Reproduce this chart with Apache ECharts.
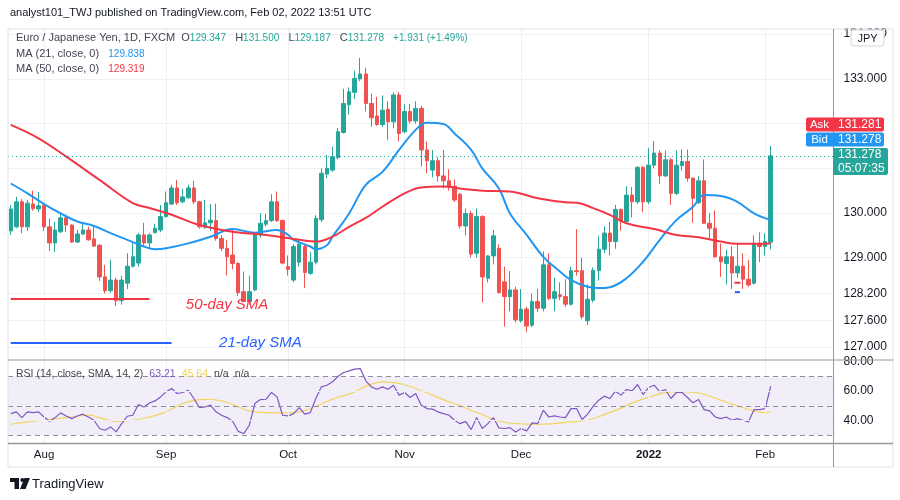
<!DOCTYPE html>
<html>
<head>
<meta charset="utf-8">
<script src="https://cdn.jsdelivr.net/npm/echarts@6/dist/echarts.min.js"></script>
<style>
  html, body { margin: 0; padding: 0; background: #fff; }
  #chart { width: 900px; height: 500px; }
</style>
</head>
<body>
<div id="chart"></div>
<script>
// EUR/JPY daily bars (FXCM), 23 Jul 2021 - 2 Feb 2022
const opens = [
  129.60, 129.69, 130.25, 129.69, 130.20, 130.09, 130.18, 129.69, 129.33, 129.58,
  129.89, 129.73, 129.35, 129.53, 129.62, 129.42, 129.28, 128.57, 128.26, 128.50,
  128.04, 128.43, 128.81, 128.88, 129.51, 129.33, 129.56, 129.62, 129.92, 130.20,
  130.56, 130.25, 130.34, 130.56, 130.25, 129.68, 129.78, 129.83, 129.43, 129.21,
  129.06, 128.87, 128.24, 128.02, 128.28, 129.51, 129.75, 129.83, 130.25, 129.83,
  128.80, 128.50, 128.90, 129.25, 128.65, 128.90, 129.85, 130.87, 130.96, 131.24,
  131.80, 132.42, 132.70, 133.00, 133.11, 132.45, 132.17, 131.98, 132.32, 132.04,
  132.64, 131.82, 132.27, 132.06, 132.34, 131.41, 130.96, 131.17, 130.83, 130.72,
  130.60, 130.42, 129.71, 129.99, 129.10, 129.92, 128.54, 129.04, 129.21,
  128.46, 128.13, 128.28, 127.59, 127.85, 127.49, 128.02, 127.87, 128.84, 128.09,
  128.17, 128.13, 127.96, 128.71, 128.71, 127.59, 128.05, 128.71, 129.19, 129.55,
  129.36, 130.08, 129.81, 130.40, 130.25, 131.02, 130.25, 131.07, 131.34, 130.83,
  131.19, 130.44, 131.06, 131.15, 130.78, 130.23, 130.72, 129.77, 129.66, 129.02,
  128.87, 129.02, 128.66, 128.81, 128.52, 128.43, 129.32, 129.25, 129.347
]
const highs = [
  130.18, 130.36, 130.31, 130.29, 130.50, 130.47, 130.22, 129.87, 129.80, 130.02,
  129.91, 129.75, 129.62, 129.80, 129.69, 129.69, 129.30, 128.84, 128.95, 128.55,
  128.60, 129.10, 129.36, 129.55, 129.78, 129.55, 129.76, 130.18, 130.48, 130.63,
  130.74, 130.54, 130.63, 130.72, 130.27, 130.29, 130.20, 130.21, 129.50, 129.40,
  129.66, 128.90, 128.69, 128.60, 129.55, 130.00, 129.98, 130.42, 130.48, 129.85,
  129.05, 129.30, 129.40, 129.30, 129.13, 129.95, 131.00, 131.30, 131.48, 131.90,
  132.78, 132.81, 133.18, 133.47, 133.25, 132.67, 132.60, 132.63, 132.50, 132.70,
  132.70, 132.44, 132.44, 132.50, 132.40, 131.60, 131.41, 131.25, 131.41, 130.98,
  130.75, 130.45, 130.10, 130.05, 130.10, 129.95, 129.06, 129.62, 129.30,
  128.80, 128.70, 128.35, 128.30, 127.90, 128.20, 128.30, 129.14, 129.10, 128.55,
  128.45, 128.52, 128.80, 129.64, 129.00, 128.40, 128.78, 129.48, 129.70, 129.80,
  130.18, 130.10, 130.60, 130.58, 131.05, 131.05, 131.45, 131.61, 131.40, 131.40,
  131.22, 131.40, 131.42, 131.42, 130.80, 130.82, 131.20, 130.00, 130.06, 129.32,
  129.18, 129.25, 129.33, 129.10, 128.95, 129.50, 129.57, 129.55, 131.500
]
const lows = [
  129.51, 129.66, 129.55, 129.60, 130.05, 130.02, 129.60, 129.15, 129.13, 129.55,
  129.57, 129.33, 129.33, 129.51, 129.38, 129.24, 128.48, 128.20, 128.22, 127.92,
  127.95, 128.30, 128.78, 128.80, 129.25, 129.20, 129.55, 129.57, 129.90, 130.18,
  130.18, 130.22, 130.32, 130.20, 129.65, 129.65, 129.60, 129.38, 129.15, 128.60,
  128.74, 128.14, 128.00, 127.95, 128.25, 129.45, 129.70, 129.80, 129.80, 128.85,
  128.60, 128.45, 128.80, 128.32, 128.62, 128.85, 129.80, 130.78, 130.92, 131.20,
  131.78, 132.20, 132.55, 132.95, 132.27, 131.93, 131.95, 131.92, 131.63, 131.90,
  131.60, 131.78, 132.00, 132.00, 131.04, 130.89, 130.80, 130.70, 130.55, 130.50,
  130.25, 129.65, 129.50, 129.00, 129.00, 128.00, 128.45, 128.85, 128.20,
  127.46, 127.80, 127.55, 127.55, 127.34, 127.45, 127.78, 127.80, 128.05, 127.80,
  128.05, 127.90, 127.93, 128.60, 127.62, 127.49, 128.00, 128.49, 129.10, 129.05,
  129.20, 129.60, 129.78, 129.90, 130.20, 130.02, 130.20, 131.00, 130.65, 130.80,
  130.18, 130.40, 130.95, 130.70, 129.78, 130.20, 129.75, 129.40, 129.00, 128.57,
  128.40, 128.30, 128.55, 128.30, 128.35, 128.40, 128.90, 129.05, 129.187
]
const closes = [
  130.09, 130.25, 129.69, 130.22, 130.10, 130.16, 129.69, 129.33, 129.62, 129.89,
  129.73, 129.35, 129.53, 129.62, 129.40, 129.26, 128.57, 128.26, 128.50, 128.04,
  128.50, 128.81, 129.02, 129.51, 129.33, 129.51, 129.66, 129.92, 130.23, 130.56,
  130.23, 130.36, 130.56, 130.25, 129.69, 129.78, 129.84, 129.43, 129.21, 129.02,
  128.87, 128.22, 128.02, 128.24, 129.52, 129.77, 129.83, 130.25, 129.83, 128.88,
  128.74, 129.25, 129.30, 128.67, 128.90, 129.88, 130.89, 131.00, 131.26, 131.82,
  132.45, 132.71, 133.01, 133.11, 132.45, 132.13, 131.98, 132.30, 132.04, 132.64,
  131.78, 132.27, 132.06, 132.34, 131.41, 131.17, 131.17, 130.83, 130.72, 130.57,
  130.29, 129.71, 129.99, 129.08, 129.92, 128.57, 129.04, 129.49, 128.22,
  128.13, 128.28, 127.61, 127.85, 127.47, 128.02, 127.87, 128.84, 128.09, 128.24,
  128.13, 127.96, 128.71, 128.69, 127.68, 128.07, 128.72, 129.19, 129.55, 129.36,
  130.08, 129.81, 130.40, 130.25, 131.02, 130.25, 131.07, 131.34, 130.83, 131.19,
  130.44, 131.07, 131.15, 130.78, 130.33, 130.72, 129.77, 129.66, 129.02, 128.91,
  129.02, 128.66, 128.81, 128.52, 128.39, 129.32, 129.25, 129.36, 131.278
]

// moving averages, read at points along the curves (bar index -> value)
const ma21Idx = [0, 3, 6, 9, 12, 15, 18, 21, 24, 26, 28, 32, 36, 40, 44, 48, 50, 51, 54, 55, 57, 58, 61, 64, 67,
  70, 73, 75, 78, 80, 83, 85, 88, 90, 93, 96, 99, 101, 104, 106, 108, 111, 114, 117, 120, 123, 125, 128, 131, 134, 137]
const ma21Values = [130.66, 130.44, 130.20, 129.99, 129.81, 129.71, 129.55, 129.40, 129.25, 129.19, 129.21, 129.32,
  129.47, 129.64, 129.56, 129.62, 129.51, 129.40, 129.25, 129.19, 129.28, 129.47, 129.99, 130.63, 130.92, 131.41,
  131.86, 132.02, 131.99, 131.78, 131.41, 131.00, 130.55, 129.99, 129.51, 129.02, 128.69, 128.50, 128.35, 128.32,
  128.34, 128.54, 128.91, 129.40, 129.84, 130.14, 130.40, 130.38, 130.25, 129.99, 129.84]
const ma50Idx = [0, 5, 10, 16, 22, 25, 29, 34, 40, 46, 52, 55, 58, 61, 64, 67, 71, 74, 78, 82, 85, 90, 95, 100,
  102, 105, 108, 111, 116, 120, 124, 128, 131, 135, 137]
const ma50Values = [131.97, 131.67, 131.26, 130.74, 130.22, 130.11, 129.96, 129.73, 129.58, 129.51, 129.40, 129.36,
  129.47, 129.69, 129.89, 130.14, 130.44, 130.57, 130.59, 130.53, 130.50, 130.48, 130.33, 130.24, 130.23, 130.11,
  129.96, 129.77, 129.64, 129.51, 129.46, 129.36, 129.31, 129.31, 129.32]

// RSI(14), one value per bar
const rsiValues = [
  44.7, 45.9, 42.0, 45.9, 45.4, 45.9, 42.4, 39.5, 42.0, 45.2, 43.1, 41.3, 43.1, 44.3, 42.4, 40.2, 34.6, 33.4, 35.7, 32.3,
  37.9, 42.9, 43.6, 50.8, 49.2, 51.9, 53.3, 56.0, 59.4, 61.7, 58.3, 59.0, 60.5, 54.9, 48.8, 49.2, 50.4, 45.9, 43.6, 42.0,
  39.5, 32.7, 31.2, 36.8, 51.5, 54.2, 54.4, 59.0, 56.0, 43.6, 43.1, 44.7, 48.8, 44.3, 45.4, 54.9, 62.8, 63.9, 66.2, 70.0,
  72.5, 73.6, 74.8, 75.2, 66.9, 62.8, 61.2, 62.8, 61.2, 63.9, 57.2, 59.0, 55.6, 58.3, 50.4, 48.1, 47.7, 45.9, 44.7, 43.6,
  40.2, 37.9, 39.4, 33.9, 42.0, 34.6, 37.9, 42.0, 35.0, 34.6, 35.2, 32.3, 34.6, 33.0, 38.4, 37.9, 47.0, 42.4, 43.1,
  42.4, 42.0, 48.1, 48.1, 40.7, 44.3, 49.7, 53.8, 56.5, 54.9, 59.9, 57.2, 61.0, 60.1, 64.4, 57.6, 62.4, 63.9, 59.4, 61.0,
  54.9, 59.0, 59.0, 55.6, 52.0, 54.2, 47.4, 46.5, 42.4, 41.3, 42.4, 40.2, 41.3, 40.2, 39.1, 47.4, 47.4, 48.1, 63.2
]
// RSI smoothing line, read at points
const rsiSmaIdx = [0, 3, 6, 10, 14, 16, 19, 22, 25, 28, 31, 34, 36, 38, 40, 43, 46, 49, 52, 55, 58, 62, 64, 67, 70,
  73, 76, 79, 80, 83, 86, 88, 91, 95, 98, 101, 104, 107, 110, 113, 116, 119, 122, 125, 128, 131, 134, 136, 137]
const rsiSmaValues = [37.5, 39.1, 40.2, 42.0, 43.6, 42.0, 39.5, 40.2, 42.4, 45.9, 51.5, 54.2, 54.4, 53.3, 50.8, 46.5,
  45.4, 45.2, 45.9, 49.7, 54.4, 59.4, 63.3, 66.2, 65.1, 61.7, 57.2, 52.6, 51.5, 47.0, 42.4, 39.5, 37.9, 37.5, 37.9,
  39.1, 40.2, 44.0, 48.4, 53.3, 56.9, 59.4, 59.4, 57.8, 53.8, 49.9, 46.5, 45.4, 45.6]

const priceGrid = [127, 127.6, 128.2, 129, 130, 131, 132, 133, 134]
const priceTicks = [127, 127.6, 128.2, 129, 130, 133, 134]
const rsiTicks = [40, 60, 80]
const monthLabels = {
  '2021-08-02': 'Aug', '2021-09-01': 'Sep', '2021-10-01': 'Oct', '2021-11-01': 'Nov',
  '2021-12-01': 'Dec', '2022-01-03': '2022', '2022-02-01': 'Feb'
}
// weekday with no bar in the feed
const missingDays = ['2021-11-25']

const FONT = '"Liberation Sans", Arial, sans-serif'
const UP = '#26A69A'
const DOWN = '#EF5350'
const GRID_LINE = '#EDF0F5'
const TEXT = '#131722'

function sessionsFrom(start, count) {
  const out = []
  const d = new Date(start + 'T00:00:00Z')
  while (out.length < count) {
    const day = d.getUTCDay()
    const iso = d.toISOString().slice(0, 10)
    if (day !== 0 && day !== 6 && !missingDays.includes(iso)) out.push(iso)
    d.setUTCDate(d.getUTCDate() + 1)
  }
  return out
}

// 11 empty future sessions keep the right margin free, like the original
const dates = sessionsFrom('2021-07-23', opens.length + 11)
const monthDates = Object.keys(monthLabels)
const candleData = opens.map((o, i) => [o, closes[i], lows[i], highs[i]])
const pairs = (idx, vals) => idx.map((k, j) => [dates[k], vals[j]])
const last = closes.length - 1

const chart = echarts.init(document.getElementById('chart'))

const noLine = { show: false }
const txt = (text, x, y, fill, size, extra) => ({
  type: 'text', z: 100, silent: true,
  style: Object.assign({ text, x, y, fill, font: `${size}px ${FONT}`, verticalAlign: 'middle', textVerticalAlign: 'middle' }, extra || {})
})
const rect = (x, y, w, h, fill, r, stroke) => ({
  type: 'rect', z: 99, silent: true,
  shape: { x, y, width: w, height: h, r: r || 0 },
  style: { fill, stroke: stroke || null }
})
const hline = (x1, x2, y, color, w) => ({
  type: 'line', z: 98, silent: true,
  shape: { x1, y1: y, x2, y2: y }, style: { stroke: color, lineWidth: w || 1 }
})
const legend = (x, y, text, rich) => ({
  type: 'text', z: 100, silent: true,
  style: { x, y, text, verticalAlign: 'middle', textVerticalAlign: 'middle', font: `11px ${FONT}`, rich }
})
const rs = (fill, size) => ({ fill, fontSize: size, fontFamily: FONT })

const option = {
  animation: false,
  backgroundColor: '#fff',
  textStyle: { fontFamily: FONT },
  grid: [
    { left: 8, top: 29, width: 826.5, height: 330 },
    { left: 8, top: 361, width: 826.5, height: 82 }
  ],
  xAxis: [
    {
      type: 'category', gridIndex: 0, data: dates,
      axisLine: noLine, axisTick: noLine, axisLabel: noLine, splitLine: noLine
    },
    {
      type: 'category', gridIndex: 1, data: dates,
      axisLine: noLine, axisTick: noLine, splitLine: noLine,
      axisLabel: {
        interval: (i, v) => v in monthLabels,
        formatter: v => (v === '2022-01-03' ? '{b|2022}' : monthLabels[v]),
        color: TEXT, fontSize: 11.5, margin: 6,
        rich: { b: { fontWeight: 'bold', fontSize: 11.5, color: TEXT } }
      }
    }
  ],
  yAxis: [
    {
      type: 'value', gridIndex: 0, position: 'right', min: 126.734, max: 134.116,
      axisLine: noLine, axisTick: noLine, splitLine: noLine,
      axisLabel: { customValues: priceTicks, formatter: v => v.toFixed(3), color: TEXT, fontSize: 12, margin: 9 }
    },
    {
      type: 'value', gridIndex: 1, position: 'right', min: 24.8, max: 80.3,
      axisLine: noLine, axisTick: noLine, splitLine: noLine,
      axisLabel: { customValues: rsiTicks, formatter: v => v.toFixed(2), color: TEXT, fontSize: 12, margin: 9 }
    }
  ],
  series: [
    {
      // price pane grid
      type: 'line', xAxisIndex: 0, yAxisIndex: 0, data: [], silent: true, z: 0,
      markLine: {
        silent: true, z: 0, symbol: ['none', 'none'], label: { show: false },
        lineStyle: { color: GRID_LINE, width: 1, type: 'solid' },
        emphasis: { disabled: true },
        data: [...priceGrid.map(v => ({ yAxis: v })), ...monthDates.map(d => ({ xAxis: d }))]
      }
    },
    {
      type: 'candlestick', xAxisIndex: 0, yAxisIndex: 0, data: candleData, barWidth: 4,
      itemStyle: { color: UP, color0: DOWN, borderColor: UP, borderColor0: DOWN, borderWidth: 1 },
      markLine: {
        silent: true, symbol: ['none', 'none'], label: { show: false },
        lineStyle: { color: UP, width: 1, type: [1, 3] },
        data: [{ yAxis: closes[last] }]
      }
    },
    {
      type: 'line', xAxisIndex: 0, yAxisIndex: 0, data: pairs(ma21Idx, ma21Values),
      smooth: 0.4, symbol: 'none', lineStyle: { color: '#2196F3', width: 2 }, z: 3
    },
    {
      type: 'line', xAxisIndex: 0, yAxisIndex: 0, data: pairs(ma50Idx, ma50Values),
      smooth: 0.4, symbol: 'none', lineStyle: { color: '#F23645', width: 2 }, z: 3
    },
    {
      // drawings: support line, marker line, annotation texts
      type: 'line', xAxisIndex: 0, yAxisIndex: 0, data: [], silent: true, z: 4,
      markLine: {
        silent: true, symbol: ['none', 'none'], label: { show: false },
        data: [
          [{ coord: [dates[0], 128.09], lineStyle: { color: '#F23645', width: 2, type: 'solid' } },
           { coord: [dates[25], 128.09] }],
          [{ coord: [dates[0], 127.10], lineStyle: { color: '#2962FF', width: 2, type: 'solid' } },
           { coord: [dates[29], 127.10] }]
        ]
      },
      markPoint: {
        silent: true,
        data: [
          { name: '50-day SMA', coord: [dates[39], 127.94], symbol: 'circle', symbolSize: 1,
            itemStyle: { color: 'rgba(0,0,0,0)' },
            label: { show: true, formatter: '{b}', position: 'inside', color: '#F23645', fontSize: 15, fontStyle: 'italic' } },
          { name: '21-day SMA', coord: [dates[45], 127.09], symbol: 'circle', symbolSize: 1,
            itemStyle: { color: 'rgba(0,0,0,0)' },
            label: { show: true, formatter: '{b}', position: 'inside', color: '#2962FF', fontSize: 15, fontStyle: 'italic' } },
          { name: 'r', coord: [dates[131], 128.44], symbol: 'rect', symbolSize: [6, 2],
            itemStyle: { color: '#F23645' }, label: { show: false } },
          { name: 'b', coord: [dates[131], 128.23], symbol: 'rect', symbolSize: [5, 2],
            itemStyle: { color: '#2962FF' }, label: { show: false } }
        ]
      }
    },
    {
      // RSI pane grid, band and levels
      type: 'line', xAxisIndex: 1, yAxisIndex: 1, data: [], silent: true, z: 0,
      markArea: {
        silent: true,
        itemStyle: { color: 'rgba(126,87,194,0.10)' },
        data: [[{ yAxis: 30 }, { yAxis: 70 }]]
      },
      markLine: {
        silent: true, symbol: ['none', 'none'], label: { show: false },
        lineStyle: { color: GRID_LINE, width: 1, type: 'solid' },
        data: [
          { yAxis: 40 }, { yAxis: 60 },
          ...monthDates.map(d => ({ xAxis: d })),
          ...[30, 50, 70].map(v => ({ yAxis: v, lineStyle: { color: '#8C8F99', width: 1, type: [5, 4] } }))
        ]
      }
    },
    {
      type: 'line', xAxisIndex: 1, yAxisIndex: 1, data: rsiValues, symbol: 'none',
      lineStyle: { color: '#7E57C2', width: 1.2 }, z: 3
    },
    {
      type: 'line', xAxisIndex: 1, yAxisIndex: 1, data: pairs(rsiSmaIdx, rsiSmaValues), symbol: 'none',
      smooth: 0.4, lineStyle: { color: '#F3D45C', width: 1.2 }, z: 2
    }
  ],
  graphic: [
    // frame and pane separators
    { type: 'rect', z: 97, silent: true, shape: { x: 8, y: 29, width: 885, height: 438 },
      style: { fill: null, stroke: '#E0E3EB', lineWidth: 1 } },
    { type: 'line', z: 98, silent: true, shape: { x1: 833.5, y1: 29, x2: 833.5, y2: 467 },
      style: { stroke: '#9598A1', lineWidth: 1 } },
    hline(8, 893, 360, '#9598A1', 1),
    hline(8, 893, 443.5, '#9598A1', 1.5),

    txt('analyst101_TWJ published on TradingView.com, Feb 02, 2022 13:51 UTC', 10, 13, TEXT, 11),

    legend(16, 38,
      '{n|Euro / Japanese Yen, 1D, FXCM}  {n|O}{v|129.347}   {n|H}{v|131.500}   {n|L}{v|129.187}   {n|C}{v|131.278}   {v|+1.931 (+1.49%)}',
      { n: rs('#434651', 11), v: rs(UP, 10) }),
    legend(16, 54, '{n|MA (21, close, 0)}   {v|129.838}', { n: rs('#434651', 11), v: rs('#2196F3', 10) }),
    legend(16, 69, '{n|MA (50, close, 0)}   {v|129.319}', { n: rs('#434651', 11), v: rs('#F23645', 10) }),
    legend(16, 374, '{n|RSI (14, close, SMA, 14, 2)}  {p|63.21}  {y|45.64}  {n|n/a}  {n|n/a}',
      { n: rs('#434651', 10.5), p: rs('#7E57C2', 10.5), y: rs('#F3D45C', 10.5) }),

    // currency badge
    rect(851, 30, 33, 16, '#fff', 3, '#D1D4DC'),
    txt('JPY', 867.5, 38.5, TEXT, 11, { align: 'center', textAlign: 'center' }),

    // ask / bid / last price tags
    rect(806, 117.5, 27, 14, '#F23645', [2, 0, 0, 2]),
    txt('Ask', 819.5, 124.5, '#fff', 11.5, { align: 'center', textAlign: 'center' }),
    rect(833, 117.5, 51, 14, '#F23645', [0, 2, 2, 0]),
    txt('131.281', 838, 124.5, '#fff', 12),
    rect(806, 132.5, 27, 14, '#2196F3', [2, 0, 0, 2]),
    txt('Bid', 819.5, 139.5, '#fff', 11.5, { align: 'center', textAlign: 'center' }),
    rect(833, 132.5, 51, 14, '#2196F3', [0, 2, 2, 0]),
    txt('131.278', 838, 139.5, '#fff', 12),
    rect(833, 148, 55, 27, UP, [0, 2, 2, 0]),
    txt('131.278', 838, 155, '#fff', 12),
    txt('05:07:35', 838, 168.5, '#fff', 12),

    // TradingView mark
    rect(10, 478, 9, 4, '#131722'),
    rect(14.5, 478, 4.5, 11, '#131722'),
    { type: 'circle', z: 99, silent: true, shape: { cx: 22.3, cy: 480, r: 2 }, style: { fill: '#131722' } },
    { type: 'polygon', z: 99, silent: true, shape: { points: [[24.5, 478], [30, 478], [25.5, 489], [20, 489]] },
      style: { fill: '#131722' } },
    txt('TradingView', 32, 484, TEXT, 13)
  ]
}

chart.setOption(option)
</script>
</body>
</html>
